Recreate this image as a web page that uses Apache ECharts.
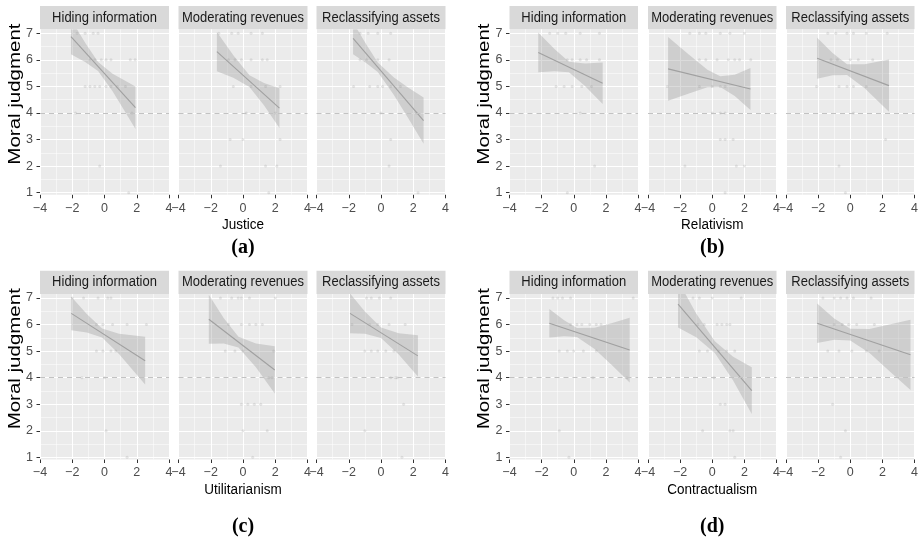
<!DOCTYPE html>
<html><head><meta charset="utf-8">
<script src="https://cdn.jsdelivr.net/npm/echarts@6/dist/echarts.min.js"></script>
<style>html,body{margin:0;padding:0;background:#fff}#c{width:921px;height:543px}</style>
</head><body><div id="c"></div>
<script>
// ---------- data ----------
const facetNames = ['Hiding information', 'Moderating revenues', 'Reclassifying assets'];
const panelVariables = ['Justice', 'Relativism', 'Utilitarianism', 'Contractualism'];
const panelTags = ['(a)', '(b)', '(c)', '(d)'];
const yTickValues = [1, 2, 3, 4, 5, 6, 7];
const yMinorValues = [1.5, 2.5, 3.5, 4.5, 5.5, 6.5];
const referenceLevel = [4];

// (a) Justice
const a1Line = [[-2.08, 6.87], [1.92, 4.20]];
const a1BandX = [-2.08, -1.2, -0.4, 0.5, 1.2, 1.92];
const a1Lo = [6.21, 5.92, 5.58, 4.82, 4.12, 3.40];
const a1Hi = [7.53, 6.64, 5.92, 5.48, 5.24, 5.00];
const a1Points = [[-1.7,7],[-1.2,7],[-0.7,7],[-0.4,7],[-0.9,6],[-0.6,6],[-0.2,6],[0.1,6],[0.4,6],[1.6,6],[1.9,6],[-1.2,5],[-0.9,5],[-0.6,5],[-0.3,5],[0.1,5],[0.4,5],[0.8,5],[1.3,5],[-1.8,4],[1.7,4],[-0.3,2],[1.5,1]];

const a2Line = [[-1.62, 6.31], [2.26, 4.18]];
const a2BandX = [-1.62, -0.6, 0.4, 1.3, 2.26];
const a2Lo = [5.57, 5.33, 4.98, 4.29, 3.43];
const a2Hi = [7.05, 6.17, 5.42, 5.13, 4.93];
const a2Points = [[-1.5,7],[-0.7,7],[-0.3,7],[0.5,7],[1.2,7],[-0.9,6],[-0.5,6],[-0.1,6],[0.5,6],[1.2,6],[1.5,6],[-0.6,5],[0.5,5],[1.4,5],[2.3,5],[0.2,4],[2.0,4],[-0.8,3],[0,3],[2.3,3],[-1.4,2],[1.4,2],[2.1,2],[1.6,1]];

const a3Line = [[-1.73, 6.81], [2.64, 3.71]];
const a3BandX = [-1.73, -0.9, -0.2, 0.8, 1.7, 2.64];
const a3Lo = [6.21, 5.87, 5.54, 4.68, 3.79, 2.84];
const a3Hi = [7.41, 6.57, 5.90, 5.34, 4.95, 4.58];
const a3Points = [[-1.3,7],[-0.8,7],[-0.2,7],[0.6,7],[-1.3,6],[-0.9,6],[-0.2,6],[0.5,6],[-1.7,5],[-0.7,5],[-0.2,5],[0.1,5],[0.6,5],[1.2,5],[0,4],[2.2,4],[0.6,3],[0.5,2],[2.3,1]];

// (b) Relativism
const b1Line = [[-2.21, 6.28], [1.80, 5.12]];
const b1BandX = [-2.21, -1.2, -0.3, 0.7, 1.80];
const b1Lo = [5.53, 5.57, 5.53, 5.02, 4.34];
const b1Hi = [7.03, 6.41, 5.93, 5.86, 5.90];
const b1Points = [[-1.5,7],[-1,7],[-0.5,7],[0.4,7],[1.6,7],[-0.4,6],[-0.1,6],[0.4,6],[0.8,6],[1.6,6],[-1.1,5],[-0.6,5],[-0.1,5],[0.5,5],[1.1,5],[0.4,4],[1.3,2],[-0.4,1]];

const b2Line = [[-2.75, 5.66], [2.38, 4.90]];
const b2BandX = [-2.75, -1.5, -0.3, 0.5, 1.4, 2.38];
const b2Lo = [4.46, 4.72, 4.97, 4.98, 4.64, 4.11];
const b2Hi = [6.86, 6.22, 5.63, 5.38, 5.44, 5.69];
const b2Points = [[-1.4,7],[-0.8,7],[-0.4,7],[0.5,7],[1.1,7],[2.0,7],[-0.8,6],[-0.4,6],[0.3,6],[1.0,6],[1.4,6],[1.7,6],[2.4,6],[-2.8,5],[-0.8,5],[0,5],[0.5,5],[0.8,5],[0,4],[0.5,4],[0.8,4],[0.5,3],[0.8,3],[1.3,3],[-1.7,2],[1.5,2],[2.0,2],[0.8,1]];

const b3Line = [[-2.06, 6.06], [2.41, 5.03]];
const b3BandX = [-2.06, -1.1, -0.2, 0.9, 2.41];
const b3Lo = [5.29, 5.42, 5.43, 4.93, 4.05];
const b3Hi = [6.83, 6.26, 5.83, 5.83, 6.01];
const b3Points = [[-1.4,7],[-0.9,7],[-0.2,7],[0.2,7],[1.0,7],[2.3,7],[-1.2,6],[-0.8,6],[0,6],[0.5,6],[1.4,6],[-2.1,5],[-0.7,5],[-0.2,5],[0.2,5],[1.0,5],[0.2,4],[2.2,3],[-0.7,2],[-0.3,1]];

// (c) Utilitarianism
const c1Line = [[-2.06, 6.42], [2.52, 4.64]];
const c1BandX = [-2.06, -1.1, -0.15, 0.9, 2.52];
const c1Lo = [5.79, 5.70, 5.51, 4.89, 3.74];
const c1Hi = [7.05, 6.40, 5.85, 5.65, 5.54];
const c1Points = [[-2.0,7],[-1.3,7],[-0.4,7],[0.2,7],[0.4,7],[-0.5,6],[-0.1,6],[0.5,6],[1.4,6],[2.6,6],[-0.5,5],[-0.1,5],[0.4,5],[0.7,5],[-1.4,4],[0,4],[0.1,2],[1.4,1]];

const c2Line = [[-2.12, 6.20], [1.97, 4.29]];
const c2BandX = [-2.12, -1.2, -0.28, 0.8, 1.97];
const c2Lo = [5.28, 5.29, 5.14, 4.39, 3.40];
const c2Hi = [7.12, 6.25, 5.54, 5.29, 5.18];
const c2Points = [[-1.4,7],[-0.7,7],[-0.3,7],[-0.1,7],[0.4,7],[2.0,7],[-0.9,6],[-0.1,6],[0.4,6],[0.8,6],[1.2,6],[-1.1,5],[-0.5,5],[0,5],[1.9,5],[1.6,4],[1.8,4],[-0.1,3],[0.3,3],[0.7,3],[1.1,3],[0,2],[1.5,2],[0.6,1]];

const c3Line = [[-1.92, 6.42], [2.29, 4.82]];
const c3BandX = [-1.92, -1.0, 0.0, 1.1, 2.29];
const c3Lo = [5.67, 5.65, 5.49, 4.87, 4.04];
const c3Hi = [7.17, 6.49, 5.89, 5.67, 5.60];
const c3Points = [[-0.9,7],[-0.6,7],[-0.1,7],[0.6,7],[-1.8,6],[-0.7,6],[-0.2,6],[0.5,6],[1.5,6],[-1.0,5],[-0.6,5],[-0.2,5],[0.3,5],[0.8,5],[0.6,4],[0.9,4],[1.0,4],[1.4,3],[-1.0,2],[1.3,1]];

// (d) Contractualism
const d1Line = [[-1.52, 6.05], [3.48, 5.04]];
const d1BandX = [-1.52, -0.6, 0.2, 1.3, 2.4, 3.48];
const d1Lo = [5.51, 5.56, 5.53, 5.08, 4.46, 3.82];
const d1Hi = [6.59, 6.16, 5.87, 5.88, 6.06, 6.26];
const d1Points = [[-1.3,7],[-1,7],[-0.7,7],[-0.2,7],[3.7,7],[-0.2,6],[0.2,6],[0.5,6],[1.0,6],[1.4,6],[1.7,6],[-0.9,5],[-0.4,5],[0,5],[0.6,5],[1.4,5],[1.2,4],[3.3,4],[-0.9,2],[-0.3,1]];

const d2Line = [[-2.13, 6.77], [2.46, 3.51]];
const d2BandX = [-2.13, -1.0, 0.16, 1.3, 2.46];
const d2Lo = [5.89, 5.52, 4.93, 3.89, 2.63];
const d2Hi = [7.65, 6.42, 5.37, 4.79, 4.39];
const d2Points = [[-1.2,7],[-0.8,7],[0,7],[1.8,7],[-0.9,6],[-0.5,6],[0.3,6],[0.6,6],[0.9,6],[1.1,6],[-0.8,5],[-0.3,5],[0.4,5],[0.9,5],[1.4,5],[0.1,4],[0.5,3],[0.8,3],[-0.6,2],[1.1,2],[1.3,2],[1.4,1]];

const d3Line = [[-2.06, 6.05], [3.75, 4.86]];
const d3BandX = [-2.06, -1.0, 0.0, 1.2, 2.5, 3.75];
const d3Lo = [5.31, 5.43, 5.40, 4.93, 4.21, 3.54];
const d3Hi = [6.79, 6.23, 5.84, 5.83, 6.01, 6.18];
const d3Points = [[-1.7,7],[-1.0,7],[-0.6,7],[-0.2,7],[0.2,7],[1.3,7],[-1.0,6],[-0.5,6],[-0.1,6],[0.4,6],[1.5,6],[-1.4,5],[-0.7,5],[0.1,5],[1.0,5],[1.8,5],[-1.1,3],[-0.3,2],[-0.6,1]];

// ---------- layout ----------
const FONT = '"Liberation Sans", Arial, sans-serif';
const ROW_TOP = [29.3, 294];
const PH = 165.5;
const STRIP_H = 23.3;
const COL_LEFT = [[40, 178.5, 316.5], [509.5, 648, 786]];
const PW = [129, 128.5];
const Y_MIN = 0.92, Y_MAX = 7.15;

const facetData = [
  [a1Line, a1BandX, a1Lo, a1Hi, a1Points], [a2Line, a2BandX, a2Lo, a2Hi, a2Points], [a3Line, a3BandX, a3Lo, a3Hi, a3Points],
  [b1Line, b1BandX, b1Lo, b1Hi, b1Points], [b2Line, b2BandX, b2Lo, b2Hi, b2Points], [b3Line, b3BandX, b3Lo, b3Hi, b3Points],
  [c1Line, c1BandX, c1Lo, c1Hi, c1Points], [c2Line, c2BandX, c2Lo, c2Hi, c2Points], [c3Line, c3BandX, c3Lo, c3Hi, c3Points],
  [d1Line, d1BandX, d1Lo, d1Hi, d1Points], [d2Line, d2BandX, d2Lo, d2Hi, d2Points], [d3Line, d3BandX, d3Lo, d3Hi, d3Points]
];

const fmt = v => (v < 0 ? '\u2212' + Math.abs(v) : String(v));

const grid = [], xAxis = [], yAxis = [], series = [], graphic = [];

for (let p = 0; p < 4; p++) {
  const row = p >> 1, side = p & 1;
  const top = ROW_TOP[row];
  const w = PW[side];
  for (let f = 0; f < 3; f++) {
    const i = p * 3 + f;
    const left = COL_LEFT[side][f];
    grid.push({ left: left, top: top, width: w, height: PH, show: true, backgroundColor: '#EBEBEB', borderWidth: 0 });
    xAxis.push({
      type: 'value', gridIndex: i, min: -4, max: 4, interval: 2,
      axisLine: { show: false, onZero: false },
      axisTick: { show: true, length: 3.5, lineStyle: { color: '#333333', width: 1 } },
      axisLabel: { color: '#4D4D4D', fontSize: 12.5, margin: 7, fontFamily: FONT, showMinLabel: true, showMaxLabel: true, formatter: fmt },
      splitLine: { show: true, lineStyle: { color: '#FFFFFF', width: 1.1 } },
      minorTick: { show: false, splitNumber: 2 },
      minorSplitLine: { show: true, lineStyle: { color: '#FFFFFF', width: 0.5 } }
    });
    yAxis.push({
      type: 'value', gridIndex: i, min: Y_MIN, max: Y_MAX, position: 'left',
      axisLine: { show: false, onZero: false },
      axisTick: { show: f === 0, length: 3.5, customValues: yTickValues, lineStyle: { color: '#333333', width: 1 } },
      axisLabel: { show: f === 0, customValues: yTickValues, color: '#4D4D4D', fontSize: 12.5, margin: 7, fontFamily: FONT },
      splitLine: { show: true, lineStyle: { color: '#FFFFFF', width: 1.1 } }
    });
    yAxis.push({
      type: 'value', gridIndex: i, min: Y_MIN, max: Y_MAX, position: 'left',
      axisLine: { show: false, onZero: false },
      axisTick: { show: false, customValues: yMinorValues },
      axisLabel: { show: false, customValues: yMinorValues },
      splitLine: { show: true, lineStyle: { color: '#FFFFFF', width: 0.5 } }
    });

    const [line, bx, lo, hi, pts] = facetData[i];
    series.push({
      type: 'scatter', xAxisIndex: i, yAxisIndex: 2 * i, data: pts, symbolSize: 3, silent: true, z: 2,
      itemStyle: { color: 'rgba(120,120,120,0.22)' },
      markLine: {
        silent: true, symbol: 'none', animation: false, label: { show: false },
        lineStyle: { color: '#C2C2C2', type: [5, 4], width: 1 },
        data: referenceLevel.map(v => ({ yAxis: v }))
      }
    });
    series.push({
      type: 'custom', xAxisIndex: i, yAxisIndex: 2 * i, clip: true, silent: true, z: 3,
      data: bx.map((x, k) => [x, lo[k], hi[k]]),
      renderItem: (params, api) => {
        if (params.dataIndex !== 0) return null;
        const up = bx.map((x, k) => api.coord([x, hi[k]]));
        const dn = bx.map((x, k) => api.coord([x, lo[k]])).reverse();
        const cs = params.coordSys;
        return {
          type: 'polygon', shape: { points: up.concat(dn) },
          style: { fill: 'rgba(150,150,150,0.34)' },
          clipPath: { type: 'rect', shape: { x: cs.x, y: cs.y, width: cs.width, height: cs.height } }
        };
      }
    });
    series.push({
      type: 'line', xAxisIndex: i, yAxisIndex: 2 * i, data: line, symbol: 'none', silent: true, z: 4,
      lineStyle: { color: '#A0A0A0', width: 1.1 }
    });

    // facet strip
    graphic.push({ type: 'rect', shape: { x: left, y: top - STRIP_H, width: w, height: STRIP_H }, style: { fill: '#D9D9D9' }, silent: true });
    graphic.push({ type: 'text', x: left + w / 2, y: top - STRIP_H / 2, scaleY: 1.1, silent: true,
      style: { text: facetNames[f], textAlign: 'center', textVerticalAlign: 'middle', font: '13px ' + FONT, fill: '#1A1A1A' } });
  }
  // y title
  graphic.push({ type: 'text', x: side ? 485 : 15.5, y: top + PH / 2 - 18, rotation: Math.PI / 2, scaleX: 1.28, silent: true,
    style: { text: 'Moral judgment', textAlign: 'center', textVerticalAlign: 'middle', font: '16px ' + FONT, fill: '#000000' } });
  // x title
  const midX = COL_LEFT[side][1] + w / 2;
  graphic.push({ type: 'text', x: midX, y: row ? 490 : 225, scaleY: 1.1, silent: true,
    style: { text: panelVariables[p], textAlign: 'center', textVerticalAlign: 'middle', font: '13.5px ' + FONT, fill: '#000000' } });
  // panel tag
  graphic.push({ type: 'text', x: midX, y: row ? 527 : 248, silent: true,
    style: { text: panelTags[p], textAlign: 'center', textVerticalAlign: 'middle', font: 'bold 20px "Liberation Serif", "Times New Roman", serif', fill: '#000000' } });
}

const chart = echarts.init(document.getElementById('c'), null, { renderer: 'canvas' });
chart.setOption({ animation: false, backgroundColor: '#FFFFFF', grid, xAxis, yAxis, series, graphic });
</script></body></html>
